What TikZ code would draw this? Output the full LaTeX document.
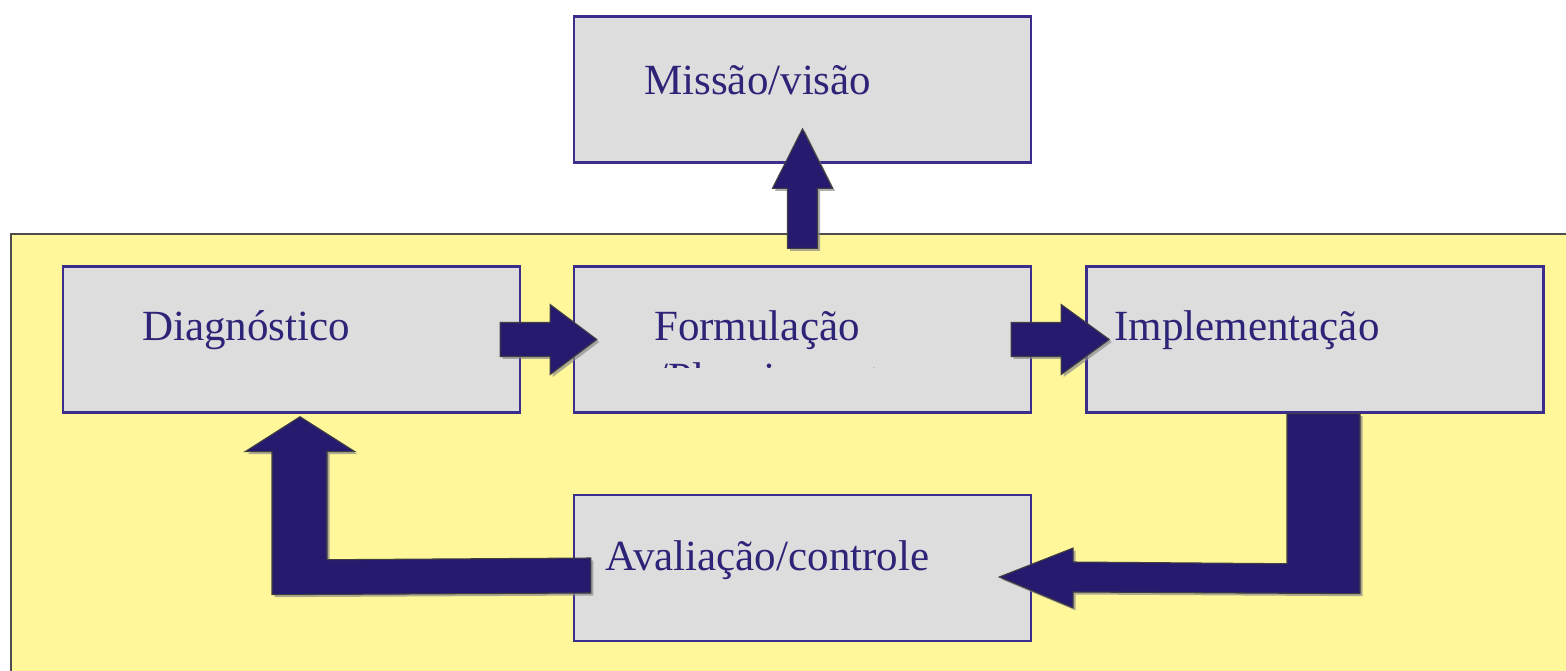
\documentclass[tikz,border=0pt]{standalone}
\usepackage{fontspec}
\setmainfont{Liberation Serif}
\usetikzlibrary{calc,shadows}
\definecolor{navy}{HTML}{2D2478}
\definecolor{arrowc}{HTML}{261A6E}
\definecolor{boxline}{HTML}{3A2D8C}
\definecolor{boxgray}{HTML}{DDDDDD}
\definecolor{bgyellow}{HTML}{FFF799}

\begin{document}
\begin{tikzpicture}[x=0.02cm,y=0.02cm,
        box/.style={draw=boxline,fill=boxgray,line width=1.4pt,minimum width=9.14cm,minimum height=2.92cm,inner sep=0pt},
        lbl/.style={anchor=base west,inner sep=0pt,text=navy,font=\fontsize{24.5}{29}\selectfont},
        blockarrow/.style={fill=arrowc,draw=black!75,line width=0.6pt,
            drop shadow={shadow xshift=0.05cm,shadow yshift=-0.05cm,fill=black!45,opacity=0.7}}]
        \useasboundingbox (0,-671) rectangle (1566,0);
        \fill[white] (0,-671) rectangle (1566,0);
        \draw[fill=bgyellow,draw=black!70,line width=1.2pt] (11,-234) rectangle (1590,-690);

        \node[box] (M) at (802.5,-89.5)  {};
        \node[box] (D) at (291.5,-339.5) {};
        \node[box] (F) at (802.5,-339.5) {};
        \node[box] (I) at (1315,-339.5)  {};
        \node[box] (A) at (802.5,-568)   {};

        \node[lbl] (Mt) at ($(M.north west)+(71,-79)$)   {Missão/visão};
        \node[lbl] (Dt) at ($(D.north west)+(80,-75.5)$) {Diagnóstico};
        \node[lbl] (Ft) at ($(F.north west)+(81,-75.5)$) {Formulação};
        \node[lbl] (It) at ($(I.north west)+(28.5,-75.5)$) {Implementação};
        \node[lbl] (At) at ($(A.north west)+(32,-77)$)   {Avaliação/controle};

        \begin{scope}
            \clip ($(F.north west)+(0,-93)$) rectangle ($(F.north east)+(0,-102)$);
            \node[lbl] (Fp) at ($(Ft.base west)+(2,-52)$) {/Planejamento};
        \end{scope}

        \draw[blockarrow] ($(F.north)+(-15,17)$) -- ++(30,0) -- ++(0,60) -- ++(15,0)
            -- ($(M.south)+(0,35)$) -- ($(F.north)+(-30,77)$) -- ++(15,0) -- cycle;

        \draw[blockarrow] ($(D.east)+(-21,17)$) -- ++(50,0) -- ++(0,18)
            -- ($(F.west)+(24,0)$) -- ($(D.east)+(29,-35)$) -- ++(0,18) -- ++(-50,0) -- cycle;
        \draw[blockarrow] ($(F.east)+(-21,17)$) -- ++(50,0) -- ++(0,18)
            -- ($(I.west)+(24,0)$) -- ($(F.east)+(29,-35)$) -- ++(0,18) -- ++(-50,0) -- cycle;

        \draw[blockarrow] ($(I.south)+(-28,0)$) -- ($(I.south)+(45,0)$) -- ($(I.south)+(45,-180)$)
            -- ($(A.east)+(41,-24)$) -- ($(A.east)+(41,-40)$) -- ($(A.east)+(-33,-9)$)
            -- ($(A.east)+(41,20)$) -- ($(A.east)+(41,6)$) -- ($(I.south)+(-28,-150)$) -- cycle;

        \draw[blockarrow] ($(A.west)+(18,10)$) -- ($(A.west)+(18,-25)$) -- ($(D.south)+(-19.5,-181)$)
            -- ($(D.south)+(-19.5,-38)$) -- ($(D.south)+(-46.5,-38)$) -- ($(D.south)+(8.5,-3)$)
            -- ($(D.south)+(63.5,-38)$) -- ($(D.south)+(35.5,-38)$) -- ($(D.south)+(35.5,-146)$) -- cycle;
    \end{tikzpicture}
\end{document}
